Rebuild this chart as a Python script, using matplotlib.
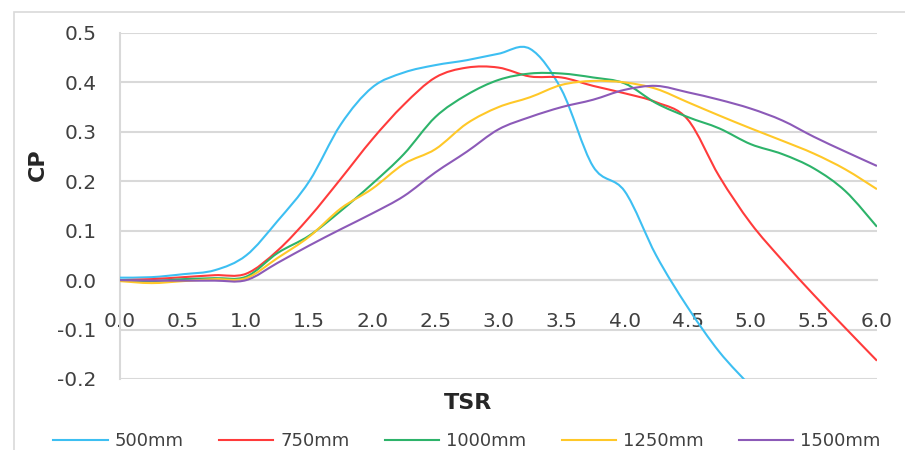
import matplotlib
matplotlib.use("Agg")
import numpy as np
import matplotlib.pyplot as plt
from matplotlib.patches import Rectangle, PathPatch
from matplotlib.path import Path
from matplotlib.lines import Line2D

plt.rcParams['font.family'] = ['DejaVu Sans']

# TSR grid
tsr = [0.0, 0.25, 0.5, 0.75, 1.0, 1.25, 1.5, 1.75, 2.0, 2.25, 2.5, 2.75, 3.0,
       3.25, 3.5, 3.75, 4.0, 4.25, 4.5, 4.75, 5.0, 5.25, 5.5, 5.75, 6.0]

cp_500 = [0.005, 0.006, 0.012, 0.02, 0.05, 0.12, 0.20, 0.315, 0.39, 0.42, 0.435, 0.445, 0.458,
          0.468, 0.385, 0.23, 0.18, 0.05, -0.055, -0.145, -0.215,
          np.nan, np.nan, np.nan, np.nan]
cp_750 = [0.0, 0.002, 0.006, 0.01, 0.013, 0.06, 0.127, 0.205, 0.285, 0.355, 0.41, 0.43, 0.43,
          0.412, 0.41, 0.393, 0.378, 0.36, 0.325, 0.21, 0.115, 0.04, -0.03, -0.097, -0.163]
cp_1000 = [0.0, -0.002, 0.002, 0.004, 0.007, 0.055, 0.09, 0.14, 0.195, 0.255, 0.33, 0.375, 0.405,
           0.418, 0.418, 0.41, 0.398, 0.358, 0.33, 0.307, 0.275, 0.255, 0.226, 0.18, 0.108]
cp_1250 = [-0.002, -0.006, -0.002, 0.002, 0.004, 0.045, 0.088, 0.145, 0.185, 0.235, 0.265, 0.317, 0.35,
           0.37, 0.395, 0.403, 0.40, 0.387, 0.36, 0.333, 0.307, 0.282, 0.256, 0.224, 0.184]
cp_1500 = [0.0, -0.001, -0.001, -0.001, 0.0, 0.035, 0.07, 0.103, 0.135, 0.17, 0.218, 0.26, 0.305,
           0.33, 0.35, 0.365, 0.385, 0.393, 0.38, 0.365, 0.347, 0.323, 0.29, 0.26, 0.231]

labels = ['500mm', '750mm', '1000mm', '1250mm', '1500mm']
colors = ['#3DBFF2', '#FF3B3B', '#2DB36A', '#FFC828', '#8C5AB8']


def smooth_path(x, y):
    # Excel-style smoothed line: cubic bezier through the points (catmull-rom tangents)
    x = np.asarray(x, float)
    y = np.asarray(y, float)
    ok = ~np.isnan(y)
    x, y = x[ok], y[ok]
    pts = np.column_stack([x, y])
    verts = [pts[0]]
    codes = [Path.MOVETO]
    for i in range(len(pts) - 1):
        p0 = pts[i - 1] if i > 0 else pts[i]
        p1, p2 = pts[i], pts[i + 1]
        p3 = pts[i + 2] if i + 2 < len(pts) else pts[i + 1]
        c1 = p1 + (p2 - p0) / 6.0
        c2 = p2 - (p3 - p1) / 6.0
        verts += [c1, c2, p2]
        codes += [Path.CURVE4] * 3
    return Path(verts, codes)


fig = plt.figure(figsize=(9.05, 4.5), dpi=100)
ax = fig.add_axes([0.1326, 0.1578, 0.969 - 0.1326, 0.9267 - 0.1578])

# light frame around the chart
fig.add_artist(Rectangle((14 / 905, -0.5), 1.2, 1.5 - 12 / 450, transform=fig.transFigure,
                         fill=False, edgecolor='#D9D9D9', linewidth=1.2))

handles = []
for ys, lab, c in zip([cp_500, cp_750, cp_1000, cp_1250, cp_1500], labels, colors):
    ax.add_patch(PathPatch(smooth_path(tsr, ys), facecolor='none', edgecolor=c,
                           linewidth=1.5, zorder=3))
    handles.append(Line2D([], [], color=c, linewidth=1.5, label=lab))

ax.set_xlim(0, 6)
ax.set_ylim(-0.2, 0.5)
ax.set_xticks(np.arange(0, 6.01, 0.5))
ax.set_yticks(np.arange(-0.2, 0.51, 0.1))
ax.set_xticklabels(['%.1f' % v for v in np.arange(0, 6.01, 0.5)])
ax.set_yticklabels(['%.1f' % v if abs(v) > 1e-9 else '0.0' for v in np.arange(-0.2, 0.51, 0.1)])

ax.grid(axis='y', color='#D9D9D9', linewidth=1.5)
ax.set_axisbelow(True)
for s in ['top', 'right']:
    ax.spines[s].set_visible(False)
ax.spines['bottom'].set_position(('data', 0))
ax.spines['bottom'].set_color('#D9D9D9')
ax.spines['bottom'].set_linewidth(1.5)
ax.spines['left'].set_color('#D9D9D9')
ax.spines['left'].set_linewidth(1.5)
ax.tick_params(length=0, labelsize=14.5, colors='#404040')
ax.tick_params(axis='y', pad=17)
ax.tick_params(axis='x', pad=23)

ax.set_xlabel('TSR', fontsize=16, fontweight='bold', color='#262626')
ax.xaxis.set_label_coords(0.46, -0.04)
ax.set_ylabel('CP', fontsize=16, fontweight='bold', color='#262626')
ax.yaxis.set_label_coords(-0.095, 0.618)

leg = fig.legend(handles=handles, loc='center', bbox_to_anchor=(0.516, 0.02), ncol=5,
                 frameon=False, fontsize=13, handlelength=3.0, columnspacing=1.95,
                 handletextpad=0.4)
for t in leg.get_texts():
    t.set_color('#404040')

fig.savefig('out.png', dpi=100)
